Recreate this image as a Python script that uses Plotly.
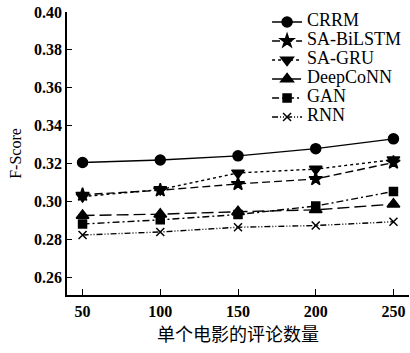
import plotly.graph_objects as go

x_vals = [50, 100, 150, 200, 250]
crrm = [0.3205, 0.3218, 0.3240, 0.3278, 0.3330]
sa_bilstm = [0.3035, 0.3058, 0.3092, 0.3118, 0.3205]
sa_gru = [0.3025, 0.3062, 0.3150, 0.3170, 0.3220]
deepconn = [0.2925, 0.2932, 0.2945, 0.2955, 0.2985]
gan = [0.2880, 0.2902, 0.2930, 0.2975, 0.3052]
rnn = [0.2822, 0.2838, 0.2863, 0.2872, 0.2892]

series = [
    ("CRRM", crrm, "solid", "circle", 10),
    ("SA-BiLSTM", sa_bilstm, "8px,4px", "star", 10),
    ("SA-GRU", sa_gru, "3px,3px", "triangle-down", 11),
    ("DeepCoNN", deepconn, "12px,5px", "triangle-up", 11),
    ("GAN", gan, "7px,3px,2px,3px", "square", 8),
    ("RNN", rnn, "6px,2px,1px,2px,1px,2px", "x-thin", 8),
]

y_ticks = [0.26, 0.28, 0.30, 0.32, 0.34, 0.36, 0.38, 0.40]

fig = go.Figure()
for name, vals, dash, sym, size in series:
    fig.add_trace(go.Scatter(
        x=x_vals, y=vals, mode="lines+markers",
        name='<span style="font-size:18px">' + name + "</span>",
        line=dict(color="black", width=1.4, dash=dash),
        marker=dict(symbol=sym, size=size, color="black",
                    line=dict(color="black", width=1.5)),
    ))

fig.update_layout(
    width=410, height=353,
    margin=dict(l=67, r=1, t=12, b=58),
    paper_bgcolor="white", plot_bgcolor="white",
    font=dict(family="Liberation Serif", color="black", size=15),
    showlegend=True,
    legend=dict(x=0.585, y=1.016, xanchor="left", yanchor="top",
                bgcolor="rgba(0,0,0,0)", font=dict(size=11),
                tracegroupgap=0),
)
fig.update_xaxes(
    range=[40, 260], tickvals=x_vals, ticks="inside", ticklen=6,
    showline=True, linecolor="black", linewidth=1.5, showgrid=False,
    zeroline=False, tickcolor="black", ticklabelstandoff=1,
    tickfont=dict(size=16, weight="bold"),
    title=dict(text="单个电影的评论数量",
               font=dict(family="Noto Sans CJK SC", size=18), standoff=6),
)
fig.update_yaxes(
    range=[0.2505, 0.40], tickvals=y_ticks, tickformat=".2f",
    ticks="inside", ticklen=5, showline=True, linecolor="black",
    linewidth=1.5, showgrid=False, zeroline=False, tickcolor="black",
    tickfont=dict(size=16, weight="bold"),
    title=dict(text="F-Score", font=dict(size=16), standoff=8),
)
fig.write_html(
    "out.html",
    config={"displayModeBar": False},
    post_script="document.body.style.margin='0';"
                "document.body.style.overflow='hidden';",
)
